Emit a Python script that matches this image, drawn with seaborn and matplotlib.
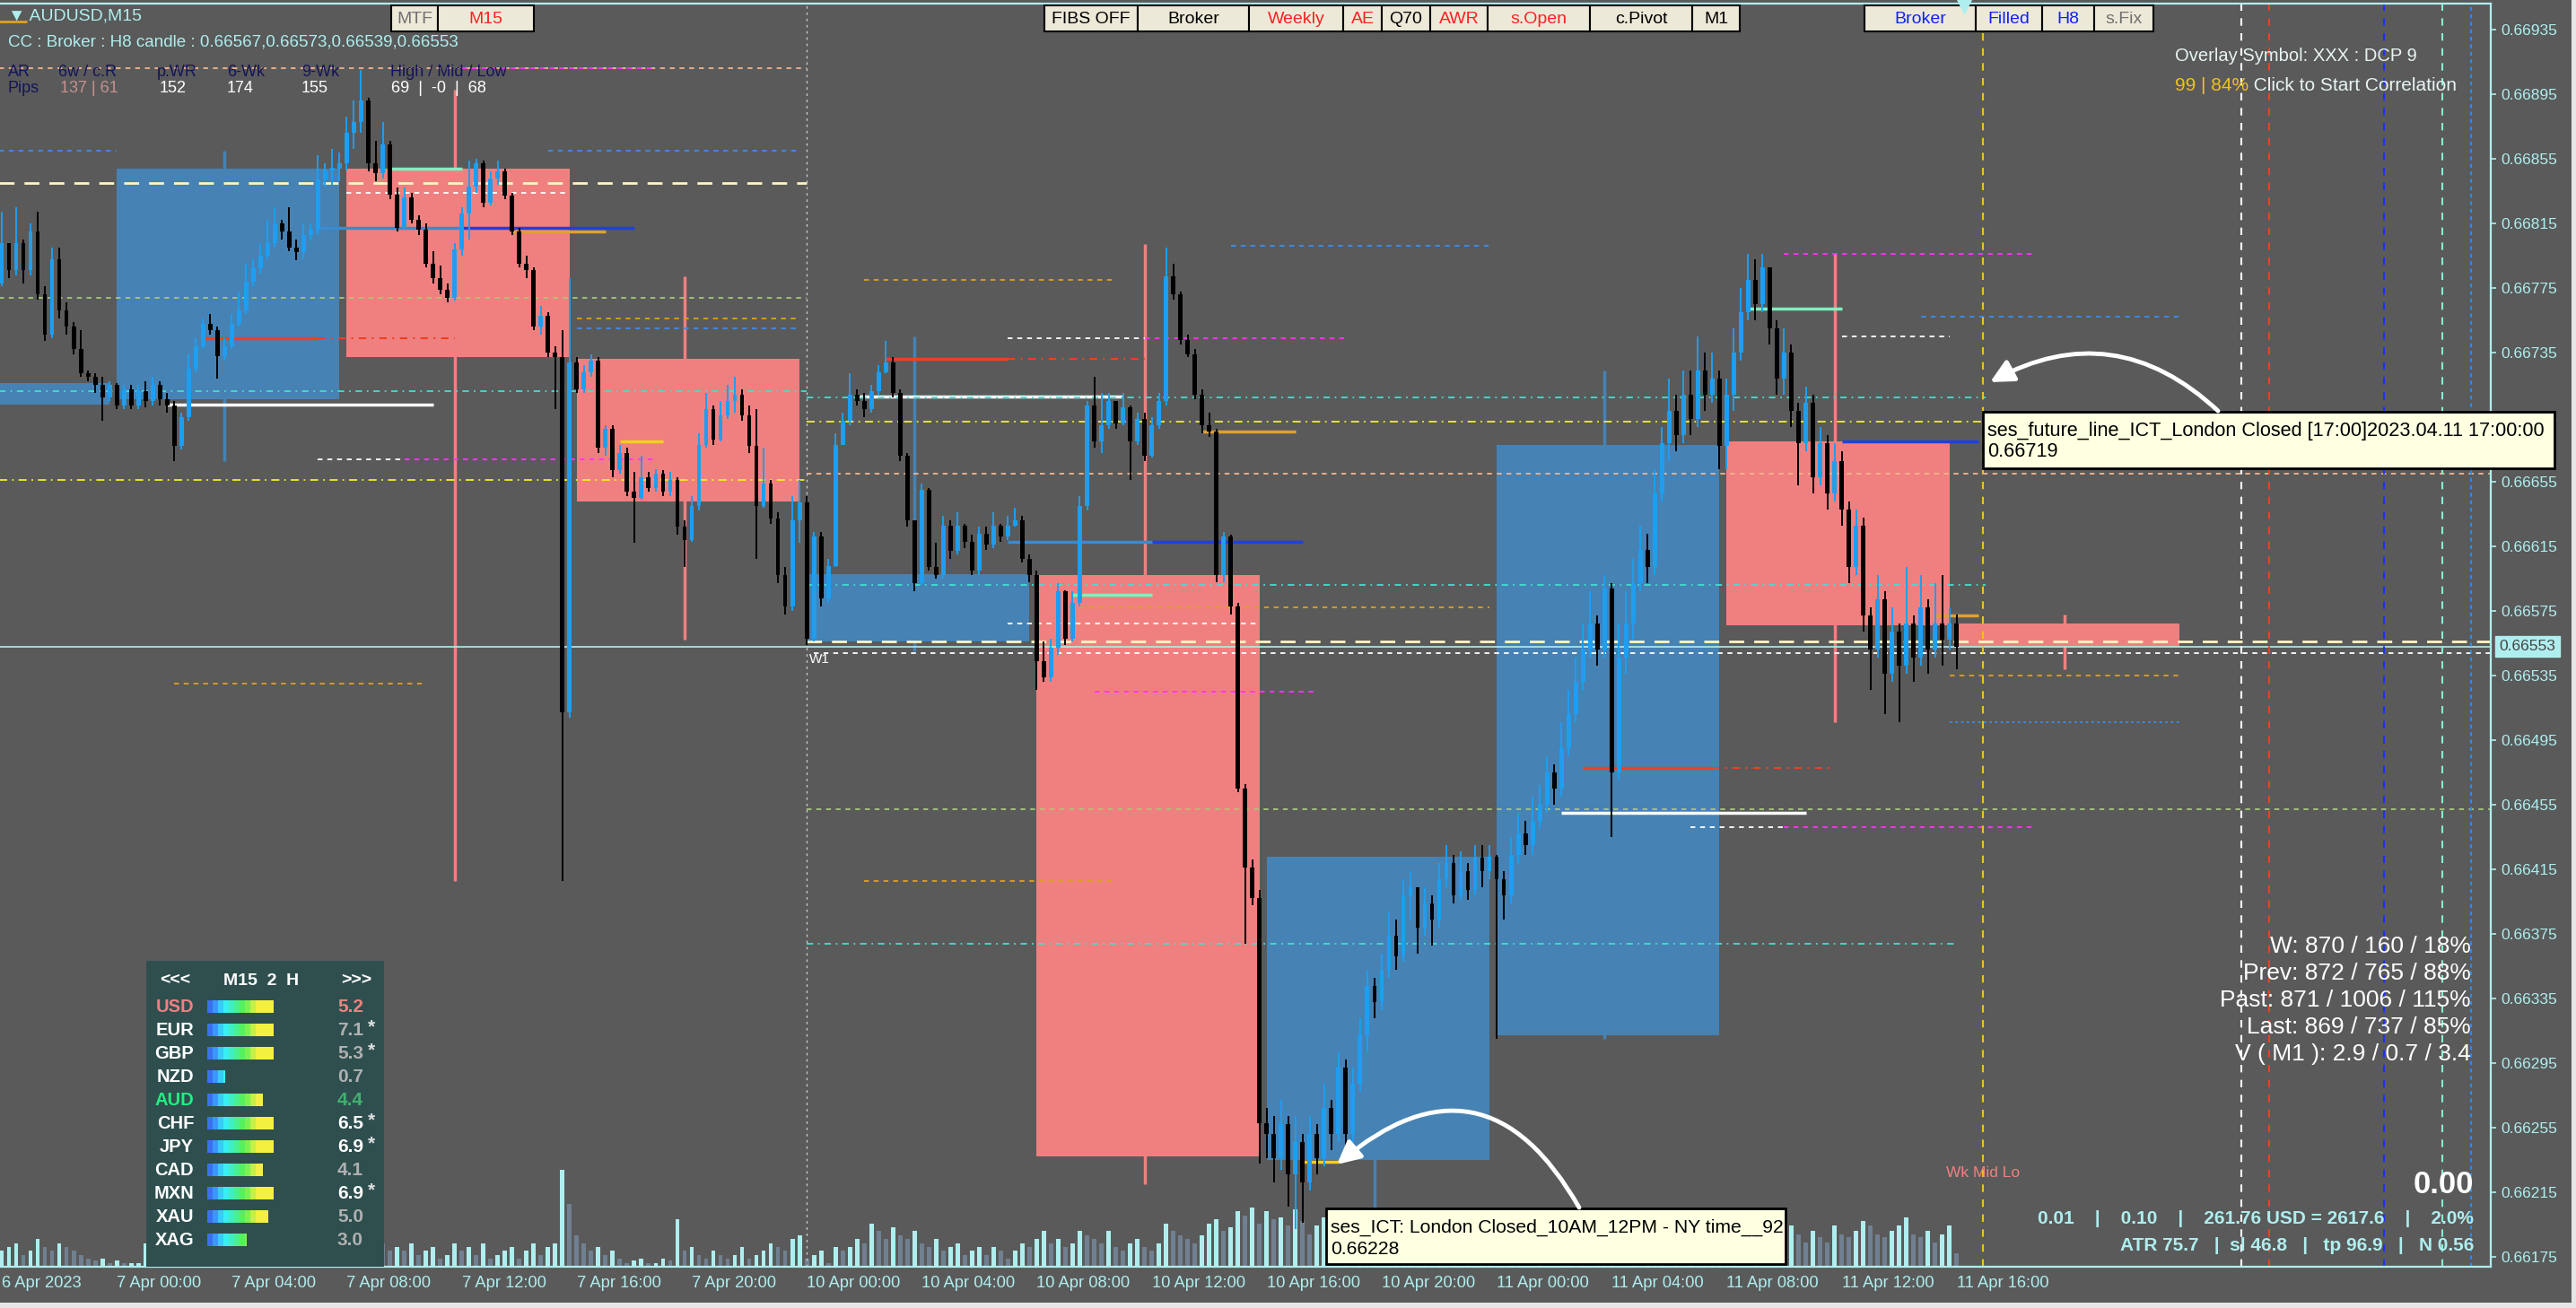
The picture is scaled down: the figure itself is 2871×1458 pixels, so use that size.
import numpy as np
import pandas as pd
import matplotlib
matplotlib.use("Agg")
import matplotlib.pyplot as plt
from matplotlib.patches import Rectangle
import seaborn as sns

W, H = 2871, 1458

# ---------------- data ----------------
first_open = 0.66778
closes = [
    0.66803, 0.66786, 0.66803, 0.66786, 0.66810, 0.66771, 0.66746, 0.66793, 0.66761, 0.66751,
    0.66737, 0.66722, 0.66720, 0.66715, 0.66707, 0.66715, 0.66702, 0.66712, 0.66702, 0.66711,
    0.66705, 0.66715, 0.66706, 0.66702, 0.66677, 0.66695, 0.66725, 0.66739, 0.66753, 0.66749,
    0.66733, 0.66739, 0.66753, 0.66761, 0.66779, 0.66787, 0.66795, 0.66803, 0.66815, 0.66810,
    0.66800, 0.66797, 0.66808, 0.66811, 0.66842, 0.66848, 0.66849, 0.66852, 0.66871, 0.66878,
    0.66891, 0.66852, 0.66846, 0.66864, 0.66833, 0.66812, 0.66831, 0.66817, 0.66811, 0.66790,
    0.66781, 0.66774, 0.66769, 0.66799, 0.66821, 0.66838, 0.66852, 0.66828, 0.66843, 0.66847,
    0.66832, 0.66810, 0.66790, 0.66786, 0.66751, 0.66758, 0.66735, 0.66732, 0.66512, 0.66729,
    0.66712, 0.66723, 0.66730, 0.66676, 0.66688, 0.66662, 0.66673, 0.66649, 0.66645, 0.66658,
    0.66651, 0.66660, 0.66649, 0.66656, 0.66627, 0.66619, 0.66640, 0.66678, 0.66700, 0.66681,
    0.66696, 0.66705, 0.66709, 0.66696, 0.66677, 0.66640, 0.66654, 0.66632, 0.66597, 0.66578,
    0.66631, 0.66642, 0.66558, 0.66621, 0.66583, 0.66603, 0.66678, 0.66693, 0.66709, 0.66705,
    0.66700, 0.66711, 0.66723, 0.66729, 0.66710, 0.66671, 0.66631, 0.66592, 0.66650, 0.66602,
    0.66597, 0.66628, 0.66612, 0.66628, 0.66618, 0.66600, 0.66623, 0.66616, 0.66628, 0.66621,
    0.66628, 0.66631, 0.66607, 0.66597, 0.66544, 0.66534, 0.66552, 0.66587, 0.66558, 0.66580,
    0.66640, 0.66702, 0.66680, 0.66690, 0.66705, 0.66691, 0.66701, 0.66680, 0.66694, 0.66671,
    0.66690, 0.66705, 0.66782, 0.66771, 0.66743, 0.66734, 0.66709, 0.66690, 0.66686, 0.66597,
    0.66621, 0.66578, 0.66465, 0.66416, 0.66397, 0.66258, 0.66251, 0.66236, 0.66257, 0.66226,
    0.66246, 0.66221, 0.66251, 0.66236, 0.66267, 0.66251, 0.66292, 0.66251, 0.66282, 0.66312,
    0.66343, 0.66333, 0.66353, 0.66374, 0.66361, 0.66399, 0.66404, 0.66379, 0.66394, 0.66384,
    0.66409, 0.66419, 0.66399, 0.66414, 0.66402, 0.66422, 0.66414, 0.66423, 0.66409, 0.66399,
    0.66424, 0.66437, 0.66430, 0.66445, 0.66455, 0.66475, 0.66465, 0.66490, 0.66511, 0.66531,
    0.66551, 0.66567, 0.66551, 0.66589, 0.66475, 0.66546, 0.66567, 0.66592, 0.66613, 0.66602,
    0.66648, 0.66679, 0.66699, 0.66684, 0.66709, 0.66694, 0.66724, 0.66709, 0.66719, 0.66677,
    0.66709, 0.66735, 0.66760, 0.66780, 0.66765, 0.66788, 0.66750, 0.66719, 0.66735, 0.66699,
    0.66679, 0.66704, 0.66658, 0.66679, 0.66648, 0.66668, 0.66638, 0.66602, 0.66628, 0.66572,
    0.66551, 0.66582, 0.66536, 0.66562, 0.66541, 0.66567, 0.66546, 0.66577, 0.66551, 0.66567,
    0.66557, 0.66567, 0.66553,
]
highs = [
    0.66822, 0.66800, 0.66825, 0.66805, 0.66815, 0.66822, 0.66776, 0.66800, 0.66800, 0.66766,
    0.66754, 0.66749, 0.66724, 0.66722, 0.66720, 0.66717, 0.66716, 0.66715, 0.66715, 0.66715,
    0.66717, 0.66720, 0.66717, 0.66710, 0.66705, 0.66698, 0.66734, 0.66744, 0.66756, 0.66759,
    0.66751, 0.66744, 0.66759, 0.66773, 0.66790, 0.66793, 0.66803, 0.66817, 0.66825, 0.66817,
    0.66825, 0.66805, 0.66815, 0.66815, 0.66857, 0.66852, 0.66861, 0.66859, 0.66881, 0.66891,
    0.66910, 0.66893, 0.66866, 0.66878, 0.66866, 0.66837, 0.66837, 0.66834, 0.66820, 0.66815,
    0.66798, 0.66789, 0.66778, 0.66803, 0.66825, 0.66854, 0.66855, 0.66854, 0.66847, 0.66854,
    0.66849, 0.66834, 0.66812, 0.66795, 0.66788, 0.66764, 0.66760, 0.66739, 0.66749, 0.66781,
    0.66732, 0.66727, 0.66734, 0.66732, 0.66690, 0.66690, 0.66678, 0.66676, 0.66661, 0.66671,
    0.66661, 0.66663, 0.66662, 0.66661, 0.66658, 0.66631, 0.66646, 0.66685, 0.66710, 0.66702,
    0.66705, 0.66715, 0.66720, 0.66712, 0.66702, 0.66700, 0.66676, 0.66656, 0.66636, 0.66602,
    0.66646, 0.66656, 0.66646, 0.66624, 0.66624, 0.66607, 0.66685, 0.66698, 0.66722, 0.66712,
    0.66710, 0.66715, 0.66727, 0.66742, 0.66732, 0.66712, 0.66673, 0.66631, 0.66654, 0.66651,
    0.66617, 0.66634, 0.66631, 0.66636, 0.66629, 0.66622, 0.66627, 0.66627, 0.66636, 0.66629,
    0.66634, 0.66639, 0.66634, 0.66610, 0.66600, 0.66556, 0.66558, 0.66592, 0.66588, 0.66587,
    0.66646, 0.66705, 0.66720, 0.66710, 0.66710, 0.66705, 0.66710, 0.66702, 0.66698, 0.66698,
    0.66695, 0.66710, 0.66800, 0.66790, 0.66773, 0.66746, 0.66737, 0.66712, 0.66698, 0.66688,
    0.66624, 0.66622, 0.66580, 0.66468, 0.66421, 0.66402, 0.66267, 0.66262, 0.66272, 0.66262,
    0.66262, 0.66251, 0.66262, 0.66257, 0.66282, 0.66272, 0.66302, 0.66297, 0.66292, 0.66323,
    0.66353, 0.66348, 0.66363, 0.66389, 0.66384, 0.66409, 0.66414, 0.66404, 0.66404, 0.66399,
    0.66419, 0.66430, 0.66424, 0.66426, 0.66419, 0.66430, 0.66430, 0.66430, 0.66424, 0.66414,
    0.66435, 0.66450, 0.66445, 0.66460, 0.66467, 0.66485, 0.66480, 0.66506, 0.66526, 0.66546,
    0.66567, 0.66587, 0.66572, 0.66597, 0.66592, 0.66567, 0.66587, 0.66607, 0.66628, 0.66623,
    0.66663, 0.66689, 0.66719, 0.66709, 0.66724, 0.66724, 0.66745, 0.66735, 0.66735, 0.66724,
    0.66719, 0.66750, 0.66775, 0.66796, 0.66793, 0.66796, 0.66785, 0.66755, 0.66750, 0.66740,
    0.66704, 0.66714, 0.66709, 0.66689, 0.66684, 0.66679, 0.66674, 0.66643, 0.66638, 0.66633,
    0.66577, 0.66597, 0.66587, 0.66577, 0.66567, 0.66602, 0.66572, 0.66597, 0.66582, 0.66592,
    0.66597, 0.66577, 0.66573,
]
lows = [
    0.66776, 0.66781, 0.66783, 0.66778, 0.66783, 0.66768, 0.66742, 0.66744, 0.66756, 0.66746,
    0.66734, 0.66720, 0.66717, 0.66710, 0.66693, 0.66705, 0.66700, 0.66700, 0.66700, 0.66700,
    0.66701, 0.66702, 0.66702, 0.66698, 0.66668, 0.66675, 0.66693, 0.66723, 0.66737, 0.66746,
    0.66719, 0.66730, 0.66737, 0.66751, 0.66759, 0.66776, 0.66784, 0.66793, 0.66800, 0.66805,
    0.66798, 0.66792, 0.66793, 0.66805, 0.66808, 0.66838, 0.66839, 0.66841, 0.66848, 0.66861,
    0.66871, 0.66847, 0.66841, 0.66843, 0.66830, 0.66810, 0.66811, 0.66815, 0.66808, 0.66788,
    0.66778, 0.66771, 0.66766, 0.66767, 0.66795, 0.66805, 0.66834, 0.66825, 0.66826, 0.66839,
    0.66830, 0.66808, 0.66788, 0.66781, 0.66749, 0.66746, 0.66732, 0.66700, 0.66408, 0.66509,
    0.66710, 0.66710, 0.66720, 0.66673, 0.66671, 0.66658, 0.66660, 0.66646, 0.66617, 0.66644,
    0.66649, 0.66649, 0.66646, 0.66646, 0.66622, 0.66602, 0.66618, 0.66637, 0.66676, 0.66678,
    0.66680, 0.66694, 0.66698, 0.66693, 0.66673, 0.66607, 0.66639, 0.66629, 0.66592, 0.66573,
    0.66575, 0.66617, 0.66554, 0.66556, 0.66578, 0.66580, 0.66602, 0.66678, 0.66690, 0.66702,
    0.66695, 0.66698, 0.66709, 0.66722, 0.66707, 0.66668, 0.66627, 0.66587, 0.66591, 0.66600,
    0.66595, 0.66595, 0.66607, 0.66610, 0.66614, 0.66597, 0.66597, 0.66613, 0.66614, 0.66618,
    0.66619, 0.66627, 0.66605, 0.66593, 0.66526, 0.66531, 0.66531, 0.66548, 0.66554, 0.66556,
    0.66578, 0.66637, 0.66676, 0.66673, 0.66688, 0.66688, 0.66690, 0.66656, 0.66678, 0.66668,
    0.66670, 0.66688, 0.66702, 0.66768, 0.66740, 0.66732, 0.66706, 0.66685, 0.66683, 0.66593,
    0.66593, 0.66573, 0.66463, 0.66369, 0.66393, 0.66233, 0.66236, 0.66221, 0.66229, 0.66206,
    0.66192, 0.66196, 0.66216, 0.66226, 0.66231, 0.66241, 0.66246, 0.66241, 0.66246, 0.66277,
    0.66302, 0.66323, 0.66328, 0.66348, 0.66353, 0.66358, 0.66384, 0.66363, 0.66374, 0.66368,
    0.66379, 0.66404, 0.66394, 0.66396, 0.66396, 0.66399, 0.66404, 0.66409, 0.66310, 0.66384,
    0.66394, 0.66419, 0.66424, 0.66424, 0.66440, 0.66450, 0.66455, 0.66460, 0.66485, 0.66506,
    0.66526, 0.66546, 0.66541, 0.66546, 0.66435, 0.66470, 0.66536, 0.66557, 0.66587, 0.66592,
    0.66597, 0.66643, 0.66668, 0.66674, 0.66679, 0.66684, 0.66689, 0.66699, 0.66704, 0.66663,
    0.66663, 0.66699, 0.66730, 0.66755, 0.66755, 0.66760, 0.66740, 0.66709, 0.66709, 0.66689,
    0.66653, 0.66674, 0.66648, 0.66653, 0.66638, 0.66643, 0.66628, 0.66592, 0.66597, 0.66562,
    0.66526, 0.66546, 0.66511, 0.66531, 0.66506, 0.66536, 0.66531, 0.66541, 0.66536, 0.66546,
    0.66541, 0.66551, 0.66539,
]
volumes = [
    160, 200, 240, 120, 160, 280, 200, 160, 240, 200, 160, 120, 80, 64, 80, 40, 64, 40, 40, 40,
    240, 200, 160, 280, 320, 240, 200, 160, 240, 200, 160, 200, 240, 280, 320, 240, 200, 160,
    240, 280, 200, 240, 320, 280, 240, 200, 160, 240, 200, 280, 240, 320, 280, 240,
    160, 200, 160, 240, 120, 160, 200, 80, 120, 240, 160, 200, 120, 240, 80, 120, 160, 200,
    80, 160, 240, 120, 200, 240,
    984, 640, 320, 240, 160, 200, 120, 160, 80, 40, 64, 80, 40, 40, 80, 64, 480, 160,
    200, 120, 80, 160, 120, 80, 120, 200, 80, 120, 160, 240, 200, 160, 280, 320,
    80, 120, 160, 40, 200, 160, 200, 280, 240, 440, 360, 280, 400, 320, 280, 360,
    240, 200, 280, 160, 200, 240, 120, 160, 200, 120, 200, 160, 80, 160, 240, 200,
    280, 360, 240, 280, 200, 240, 360, 320, 280, 240, 360, 200, 160, 240, 280, 200, 160, 240,
    440, 360, 320, 280, 240, 320, 440, 480, 360, 400, 560, 520, 600, 440, 560, 480,
    500, 415, 580, 465, 330, 415, 500, 365, 300, 415, 250, 330, 200, 300, 250, 166, 200, 250,
    330, 166, 200, 133, 250, 166, 200, 133, 250, 166, 200, 300,
    166, 133, 200, 250, 166, 133, 250, 200, 166, 250, 330, 200, 300, 250, 365, 415, 500, 330,
    250, 300, 200, 250, 330, 365, 250, 300, 200, 330, 250, 166, 300, 365,
    330, 415, 300, 250, 365, 330, 250, 200, 300, 415, 330, 250, 365, 300, 250, 415, 330, 300,
    365, 465, 415, 330, 300, 365, 415, 500, 330, 300, 365, 250, 330, 415, 133,
]
assert len(closes) == len(highs) == len(lows) == len(volumes) == 273

tick_labels = ["6 Apr 2023", "7 Apr 00:00", "7 Apr 04:00", "7 Apr 08:00", "7 Apr 12:00",
               "7 Apr 16:00", "7 Apr 20:00", "10 Apr 00:00", "10 Apr 04:00", "10 Apr 08:00",
               "10 Apr 12:00", "10 Apr 16:00", "10 Apr 20:00", "11 Apr 00:00", "11 Apr 04:00",
               "11 Apr 08:00", "11 Apr 12:00", "11 Apr 16:00"]

# H8 candles of the broker (session boxes)
h8_open = [0.66703, 0.66706, 0.66849, 0.66731, 0.66556, 0.66597, 0.66235, 0.66312, 0.66680, 0.66567]
h8_close = [0.66716, 0.66849, 0.66732, 0.66643, 0.66598, 0.66237, 0.66423, 0.66678, 0.66566, 0.66553]
h8_high = [0.66716, 0.66860, 0.66898, 0.66782, 0.66745, 0.66802, 0.66423, 0.66724, 0.66796, 0.66573]
h8_low = [0.66703, 0.66668, 0.66408, 0.66557, 0.66550, 0.66220, 0.66196, 0.66310, 0.66506, 0.66539]

last_price = 0.66553

# horizontal levels: (price, from bar, to bar)
lv_peach = [(0.66911, -1, 112), (0.66660, 112, 350)]
lv_magenta = [(0.66911, 64, 91), (0.66669, 56, 91), (0.66744, 159, 187),
              (0.66525, 152, 183), (0.66796, 248, 283), (0.66441, 248, 283)]
lv_blue_dash = [(0.66860, -1, 16), (0.66860, 76, 111), (0.66750, 80, 111),
                (0.66801, 171, 207), (0.66757, 267, 303)]
lv_blue_dot = [(0.66506, 271, 303)]
lv_cream = [(0.66840, -1, 112), (0.66556, 112, 350)]
lv_white_dash = [(0.66834, 48, 79), (0.66744, 140, 159), (0.66567, 140, 175),
                 (0.66549, 113, 350), (0.66745, 256, 271), (0.66441, 235, 248), (0.66669, 44, 56)]
lv_white = [(0.66703, 23, 60), (0.66708, 119, 156), (0.66450, 217, 251)]
lv_green = [(0.66769, -1, 112), (0.66452, 112, 350)]
lv_cyan = [(0.66711, -1, 112), (0.66707, 112, 276), (0.66591, 112, 276), (0.66369, 112, 272)]
lv_yellow = [(0.66656, -1, 112), (0.66692, 112, 276)]
lv_orange_dash = [(0.66756, 80, 111), (0.66530, 24, 59), (0.66780, 120, 155),
                  (0.66408, 120, 155), (0.66535, 271, 303), (0.66577, 150, 207)]
lv_orange = [(0.66810, 71, 84), (0.66686, 167, 180), (0.66572, 269, 275)]
lv_gold = [(0.66680, 86, 92), (0.66234, 181, 186)]
lv_red = [(0.66744, 28, 44), (0.66731, 123, 140), (0.66478, 220, 238)]
lv_red_dashdot = [(0.66744, 44, 63), (0.66731, 140, 159), (0.66478, 238, 255)]
lv_navy = [(0.66812, 64, 88), (0.66618, 160, 181), (0.66680, 256, 275)]
lv_steel = [(0.66812, 44, 64), (0.66618, 140, 160)]
lv_mint = [(0.66849, 54, 64), (0.66585, 149, 160), (0.66762, 243, 256)]
week_start_bar = 112
future_bars = [275.6, 311.6, 315.5, 331.5, 339.6, 343.6]

currencies = ["USD", "EUR", "GBP", "NZD", "AUD", "CHF", "JPY", "CAD", "MXN", "XAU", "XAG"]
strength = [5.2, 7.1, 5.3, 0.7, 4.4, 6.5, 6.9, 4.1, 6.9, 5.0, 3.0]
starred = [False, True, True, False, False, True, True, False, True, False, False]
meter_fill = [1.0, 1.0, 1.0, 0.27, 0.84, 1.0, 1.0, 0.84, 1.0, 0.92, 0.6]

stats_lines = ["W: 870 / 160 / 18%", "Prev: 872 / 765 / 88%", "Past: 871 / 1006 / 115%",
               "Last: 869 / 737 / 85%", "V ( M1 ): 2.9 / 0.7 / 3.4"]

# ---------------- styling ----------------
BG = "#5a5a5a"
CYAN = "#afeeee"
BULL = "#1e9ef0"
STEEL = "#4682b4"
CORAL = "#f08080"

sns.set_style("dark", {"axes.facecolor": BG, "figure.facecolor": BG})
plt.rcParams["font.family"] = ["Liberation Sans", "DejaVu Sans"]

fig = plt.figure(figsize=(W / 100, H / 100), dpi=100)
fig.patch.set_facecolor(BG)
rect = [0, 1 - 1412 / H, 2776 / W, (1412 - 4) / H]
x_lim = (-2 / 8.01, (2776 - 2) / 8.01)
y_lim = (0.661689, 0.669511)

# volumes behind the price chart
axv = fig.add_axes(rect)
axv.set_zorder(1)
n = len(closes)
bars = np.arange(n)
vol = np.array(volumes)
vdf = pd.DataFrame({"bar": bars, "vol": vol,
                    "dir": np.where(np.r_[True, vol[1:] >= vol[:-1]], "up", "down")})
sns.barplot(data=vdf, x="bar", y="vol", hue="dir", palette={"up": CYAN, "down": "#708090"},
            native_scale=True, dodge=False, width=0.6, saturation=1, errorbar=None,
            legend=False, linewidth=0, ax=axv)
axv.set_xlim(*x_lim)
axv.set_ylim(0, 12800)
axv.axis("off")

ax = fig.add_axes(rect)
ax.set_zorder(2)
ax.set_facecolor("none")
ax.set_xlim(*x_lim)
ax.set_ylim(*y_lim)

# session boxes (H8 candles)
h8_start = 16 + 32 * (np.arange(len(h8_open)) - 1)
for s, op, cl, hh, ll in zip(h8_start, h8_open, h8_close, h8_high, h8_low):
    colr = STEEL if cl >= op else CORAL
    ax.bar(s, abs(cl - op), bottom=min(op, cl), width=31, align="edge", color=colr, lw=0, zorder=1)
    ax.vlines(s + 15, ll, hh, colors=colr, lw=2.5, zorder=1)


def levels(items, color, ls="-", lw=1.0):
    for p, a, b in items:
        ax.hlines(p, a, b, colors=color, linestyles=ls, lw=lw, zorder=2)


dash = (0, (3, 3))
levels(lv_peach, "#f4b48c", dash, 1.3)
levels(lv_magenta, "#ff30ff", dash, 1.3)
levels(lv_blue_dash, "#3a8ef0", dash, 1.3)
levels(lv_blue_dot, "#3a8ef0", (0, (1.5, 2)), 1.3)
levels(lv_cream, "#fff5c0", (0, (6, 4)), 2.0)
levels(lv_white_dash, "#ffffff", dash, 1.3)
levels(lv_white, "#ffffff", "-", 2.5)
levels(lv_green, "#a8c878", dash, 1.3)
levels(lv_cyan, "#40e0d0", (0, (4, 3, 1, 3)), 1.3)
levels(lv_yellow, "#f0f020", (0, (5, 3, 1, 3)), 1.3)
levels(lv_orange_dash, "#e0a020", dash, 1.3)
levels(lv_orange, "#e0a030", "-", 2.5)
levels(lv_gold, "#f0d020", "-", 2.5)
levels(lv_red, "#f04020", "-", 2.5)
levels(lv_red_dashdot, "#f04020", (0, (4, 3, 1, 3)), 1.5)
levels(lv_navy, "#2040e0", "-", 2.5)
levels(lv_steel, "#3a8ad0", "-", 2.5)
levels(lv_mint, "#80f0c0", "-", 2.5)
ax.axhline(last_price, color=CYAN, lw=1.2, zorder=2)

ax.axvline(week_start_bar, color="#c8c8c8", ls=(0, (2, 3)), lw=1.0, zorder=2)
for xb, colr, ls in zip(future_bars,
                        ["#f0c020", "#ffffff", "#f04020", "#1a30ff", "#80f0d0", "#2090ff"],
                        [(0, (4, 4))] * 5 + [(0, (2, 2))]):
    ax.axvline(xb, color=colr, ls=ls, lw=1.5, zorder=2)

# candles
c = np.array(closes)
o = np.r_[first_open, c[:-1]]
hi = np.maximum.reduce([np.array(highs), o, c])
lo = np.minimum.reduce([np.array(lows), o, c])
col = np.where(c >= o, BULL, "black")
ax.vlines(bars, lo, hi, colors=col, lw=1.4, zorder=4)
ax.bar(bars, np.maximum(np.abs(c - o), 0.000012), bottom=np.minimum(o, c), width=0.6,
       color=col, lw=0, zorder=4)

ax.text(week_start_bar + 0.3, last_price - 0.00004, "W1", color="white", fontsize=11, va="top", zorder=5)
ax.text(270.5, 0.66227, "Wk Mid Lo", color=CORAL, fontsize=12.5, va="center", zorder=5)

# axes decoration
for side in ["top", "right", "bottom"]:
    ax.spines[side].set_visible(True)
    ax.spines[side].set_color(CYAN)
    ax.spines[side].set_linewidth(1.6)
ax.spines["left"].set_visible(False)
ax.yaxis.tick_right()
ax.set_yticks(np.round(np.arange(0.66175, 0.66936, 0.0004), 5))
ax.yaxis.set_major_formatter(plt.FuncFormatter(lambda v, pos: f"{v:.5f}"))
ax.tick_params(axis="y", direction="out", length=4, width=1.2, color=CYAN, labelcolor=CYAN,
               labelsize=12.5, pad=4, left=False, right=True, labelleft=False, labelright=True)
ax.set_xticks(np.arange(0, 273, 16))
ax.set_xticklabels(tick_labels, ha="left")
ax.tick_params(axis="x", direction="out", length=4.3, width=1.2, color=CYAN, labelcolor=CYAN,
               labelsize=13.2, pad=3)
ax.grid(False)
ax.text(1.0035, last_price, f"{last_price:.5f}", transform=ax.get_yaxis_transform(),
        ha="left", va="center", fontsize=12.5, color="#454545",
        bbox=dict(boxstyle="square,pad=0.25", fc=CYAN, ec=CYAN), zorder=6, clip_on=False)

# ---------------- overlay (pixel coordinates) ----------------
ov = fig.add_axes([0, 0, 1, 1])
ov.set_zorder(3)
ov.set_xlim(0, W)
ov.set_ylim(H, 0)
ov.axis("off")

ov.add_patch(Rectangle((0, 1452), W, 6, fc="#e6e6e6", ec="none"))
ov.add_patch(Rectangle((2866, 0), 5, H, fc="#e6e6e6", ec="none"))

# header texts
ov.plot([0, 29], [24, 24], color="#e0a020", lw=2)
ov.text(9, 18, "▼ AUDUSD,M15", color=CYAN, fontsize=14, va="center")
ov.text(9, 47, "CC : Broker : H8 candle : 0.66567,0.66573,0.66539,0.66553", color=CYAN,
        fontsize=13.5, va="center")
NAVY = "#14145a"
for x, t in zip([9, 65, 175, 253, 336, 435],
                ["AR", "6w / c.R", "p.WR", "6-Wk", "9-Wk", "High / Mid / Low"]):
    ov.text(x, 80, t, color=NAVY, fontsize=13, va="center")
ov.text(9, 98, "Pips", color=NAVY, fontsize=13, va="center")
ov.text(67, 98, "137 | 61", color="#c89090", fontsize=13, va="center")
for x, t in zip([178, 253, 336, 436], ["152", "174", "155", "69  |  -0  |  68"]):
    ov.text(x, 98, t, color="white", fontsize=13, va="center")

# buttons
buttons = [("MTF", 436, 488, "#707070"), ("M15", 488, 595, "#ff2020"),
           ("FIBS OFF", 1164, 1268, "black"), ("Broker", 1268, 1392, "black"),
           ("Weekly", 1392, 1497, "#ff2020"), ("AE", 1497, 1540, "#ff2020"),
           ("Q70", 1540, 1594, "black"), ("AWR", 1594, 1658, "#ff2020"),
           ("s.Open", 1658, 1772, "#ff2020"), ("c.Pivot", 1772, 1886, "black"),
           ("M1", 1886, 1939, "black"), ("Broker", 2078, 2202, "#1020ff"),
           ("Filled", 2202, 2276, "#1020ff"), ("H8", 2276, 2334, "#1020ff"),
           ("s.Fix", 2334, 2400, "#707070")]
for label, x0, x1, tc in buttons:
    ov.add_patch(Rectangle((x0, 6), x1 - x0, 29, fc="#ece9d8", ec="black", lw=1.5))
    ov.text((x0 + x1) / 2, 21, label, color=tc, fontsize=14, ha="center", va="center")
ov.plot([2189], [7], marker="v", color=CYAN, markersize=11)

t1 = ov.text(2424, 62, "Overlay Symbol: XXX : DCP 9", color="#e8f4f4", fontsize=14.5, va="center")
t2 = ov.text(2424, 95, "99 | 84%", color="#f0c020", fontsize=15, va="center")
ov.annotate(" Click to Start Correlation", xy=(1, 0.5), xycoords=t2, va="center",
            color="#e8f4f4", fontsize=15)

# stats block
for k, line in enumerate(stats_lines):
    ov.text(2754, 1055 + 30 * k, line, color="white", fontsize=19, ha="right", va="center")
ov.text(2757, 1320, "0.00", color="white", fontsize=25, weight="bold", ha="right", va="center")
ov.text(2757, 1358, "0.01    |    0.10    |    261.76 USD = 2617.6    |    2.0%", color=CYAN,
        fontsize=15, weight="bold", ha="right", va="center")
ov.text(2757, 1388, "ATR 75.7   |  sl 46.8   |   tp 96.9   |   N 0.56", color=CYAN, fontsize=15,
        weight="bold", ha="right", va="center")

# currency strength panel
ov.add_patch(Rectangle((163, 1071), 265, 341, fc="#2f4f4f", ec="none"))
ov.text(195, 1093, "<<<", color="white", fontsize=14, weight="bold", ha="center", va="center")
ov.text(291, 1093, "M15  2  H", color="white", fontsize=14, weight="bold", ha="center", va="center")
ov.text(397, 1093, ">>>", color="white", fontsize=14, weight="bold", ha="center", va="center")
seg_edges = [0, 6, 12, 18, 24, 30, 36, 42, 48, 54, 74]
seg_cols = ["#3a70f0", "#3a98f8", "#38cdf8", "#38eef2", "#40efc0", "#48f090", "#54f060",
            "#80f050", "#c4f048", "#f4f040"]
name_cols = [CORAL, "white", "white", "white", "#20f080", "white", "white", "white", "white",
             "white", "white"]
val_cols = [CORAL, "#b0b0b0", "#b0b0b0", "#b0b0b0", "#40b070", "white", "white", "#b0b0b0",
            "white", "#b0b0b0", "#b0b0b0"]
for k, (cur, val, star, fill) in enumerate(zip(currencies, strength, starred, meter_fill)):
    y = 1122 + 26 * k
    ov.text(216, y, cur, color=name_cols[k], fontsize=14.5, weight="bold", ha="right", va="center")
    length = 74 * fill
    for e0, e1, sc in zip(seg_edges[:-1], seg_edges[1:], seg_cols):
        if length > e0:
            ov.add_patch(Rectangle((231 + e0, y - 7), min(e1, length) - e0, 14, fc=sc, ec="none"))
    ov.text(405, y, f"{val:.1f}", color=val_cols[k], fontsize=15, weight="bold", ha="right", va="center")
    if star:
        ov.text(410, y - 3, "*", color="#e0e0e0", fontsize=15, weight="bold", va="center")

# tooltips with curved arrows
ov.add_patch(Rectangle((2210, 459), 637, 63, fc="#ffffe1", ec="black", lw=2))
ov.text(2215, 480, "ses_future_line_ICT_London Closed [17:00]2023.04.11 17:00:00", color="black",
        fontsize=15.6, va="center")
ov.text(2215, 503, "0.66719", color="black", fontsize=15.6, va="center")
ov.annotate("", xy=(2218, 426), xytext=(2472, 458),
            arrowprops=dict(arrowstyle="-|>,head_length=0.7,head_width=0.35", color="white", lw=3.5,
                            connectionstyle="arc3,rad=0.36", shrinkA=0, shrinkB=0, mutation_scale=22))
ov.add_patch(Rectangle((1478, 1347), 512, 62, fc="#ffffe1", ec="black", lw=2))
ov.text(1483, 1368, "ses_ICT: London Closed_10AM_12PM - NY time__92", color="black",
        fontsize=15.2, va="center")
ov.text(1483, 1393, "0.66228", color="black", fontsize=15.2, va="center")
ov.annotate("", xy=(1490, 1298), xytext=(1760, 1346),
            arrowprops=dict(arrowstyle="-|>,head_length=0.7,head_width=0.35", color="white", lw=3.5,
                            connectionstyle="arc3,rad=0.6", shrinkA=0, shrinkB=0, mutation_scale=22))

fig.savefig("out.png", dpi=100, facecolor=BG)
